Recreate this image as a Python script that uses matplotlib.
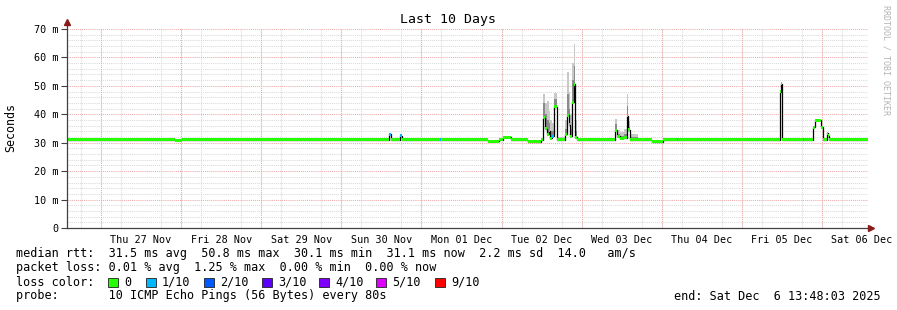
import numpy as np
import matplotlib
matplotlib.use('Agg')
import matplotlib.pyplot as plt
from matplotlib.patches import Rectangle

# DATOS (horas desde 2025-11-26 00:00)

t_start = 13.8
t_end = 253.8

hours = [13.8, 46.2, 48.3, 110.3, 110.9, 113.6, 114.2, 125.6, 125.9, 139.9,
         143.2, 144.4, 146.8, 151.9, 155.8, 156.4, 157.0, 157.6, 158.2, 158.5,
         159.1, 159.7, 160.6, 163.0, 163.6, 164.2, 164.5, 165.1, 165.7, 166.0,
         166.6, 178.0, 178.6, 179.5, 180.7, 181.6, 181.9, 182.5, 184.9, 189.1,
         192.4, 196.6, 196.9, 227.4, 227.7, 228.0, 234.3, 234.6, 237.3, 237.9,
         239.7, 240.3, 241.5, 241.8, 242.1]

# mediana rtt (ms)
median = [31.1, 30.8, 31.1, 32.9, 31.1, 32.5, 31.1, 31.1, 31.1, 30.5,
          31.1, 32.0, 31.1, 30.4, 31.1, 38.8, 35.0, 33.0, 34.2, 31.6,
          32.3, 42.7, 31.1, 32.9, 39.6, 36.4, 32.3, 44.3, 50.5, 32.0,
          31.1, 34.4, 32.3, 31.6, 31.8, 39.4, 34.6, 31.1, 31.1, 30.4,
          31.1, 31.1, 31.1, 48.0, 50.8, 31.1, 31.1, 31.1, 35.5, 37.9,
          35.5, 31.1, 33.4, 32.4, 31.1]

# humo: ping maximo
smoke_hi = [31.1, 30.8, 31.1, 33.3, 31.1, 32.8, 31.8, 31.1, 31.1, 30.5,
            31.1, 32.0, 31.1, 31.0, 31.1, 47.0, 44.0, 44.5, 41.0, 38.0,
            37.0, 47.4, 32.0, 38.0, 54.8, 48.0, 40.0, 58.0, 64.7, 38.0,
            31.8, 38.5, 34.5, 33.6, 35.0, 47.0, 37.5, 33.0, 31.1, 30.4,
            31.1, 31.1, 31.1, 48.5, 51.2, 31.1, 31.1, 31.1, 35.5, 37.9,
            35.5, 31.1, 33.4, 32.4, 31.1]

# humo oscuro (pings cerca de la mediana)
smoke_dark = [31.1, 30.8, 31.1, 33.0, 31.1, 32.6, 31.3, 31.1, 31.1, 30.5,
              31.1, 32.0, 31.1, 30.6, 31.1, 44.0, 40.0, 38.0, 37.0, 34.0,
              34.0, 45.5, 31.5, 35.0, 47.0, 42.0, 35.0, 52.0, 57.0, 34.0,
              31.1, 36.5, 33.0, 32.5, 33.0, 43.0, 35.5, 32.0, 31.1, 30.4,
              31.1, 31.1, 31.1, 48.0, 50.8, 31.1, 31.1, 31.1, 35.5, 37.9,
              35.5, 31.1, 33.4, 32.4, 31.1]

# perdida de paquetes (decimas)
loss = [0, 0, 0, 1, 0, 1, 0, 1, 0, 0,
        0, 0, 0, 0, 0, 0, 0, 0, 0, 0,
        1, 0, 0, 0, 0, 0, 0, 0, 0, 0,
        0, 0, 0, 0, 0, 0, 0, 0, 0, 0,
        0, 1, 0, 0, 0, 0, 1, 0, 0, 0,
        0, 0, 0, 0, 0]

loss_colors = {0: '#26ff00', 1: '#00b8ff', 2: '#0059ff', 3: '#5e00ff',
               4: '#7e00ff', 5: '#dd00ff', 9: '#ff0000'}
legend_names = ['0', '1/10', '2/10', '3/10', '4/10', '5/10', '9/10']
legend_keys = [0, 1, 2, 3, 4, 5, 9]

midnights = [24, 48, 72, 96, 120, 144, 168, 192, 216, 240]
day_labels = ['Thu 27 Nov', 'Fri 28 Nov', 'Sat 29 Nov', 'Sun 30 Nov', 'Mon 01 Dec',
              'Tue 02 Dec', 'Wed 03 Dec', 'Thu 04 Dec', 'Fri 05 Dec', 'Sat 06 Dec']
y_ticks = [0, 10, 20, 30, 40, 50, 60, 70]
y_labels = ['0', '10 m', '20 m', '30 m', '40 m', '50 m', '60 m', '70 m']

stats_rtt = 'median rtt:  31.5 ms avg  50.8 ms max  30.1 ms min  31.1 ms now  2.2 ms sd  14.0   am/s'
stats_loss = 'packet loss: 0.01 % avg  1.25 % max  0.00 % min  0.00 % now'
probe_text = 'probe:       10 ICMP Echo Pings (56 Bytes) every 80s'
end_text = 'end: Sat Dec  6 13:48:03 2025'

# GRAFICA

W, H = 897, 310
plt.rcParams['font.family'] = 'DejaVu Sans Mono'
fs_leg = 8.5

fig = plt.figure(figsize=(W / 100, H / 100), dpi=100, facecolor='white')


def px(x, y):
    return x / W, 1 - y / H


ax = fig.add_axes([67 / W, (H - 228) / H, 801 / W, 199 / H])
ax.set_xlim(t_start, t_end)
ax.set_ylim(0, 70)

t = np.array(hours + [t_end])
med = np.array(median + [median[-1]])
hi = np.array(smoke_hi + [smoke_hi[-1]])
dk = np.array(smoke_dark + [smoke_dark[-1]])

# humo
ax.fill_between(t, med, hi, step='post', color='#c8c8c8', lw=0, zorder=2)
ax.fill_between(t, med, dk, step='post', color='#8a8a8a', lw=0, zorder=3)

# linea de la mediana
ax.step(t, med, where='post', color='black', lw=0.9, zorder=4)

# banda de color de perdida
for i in range(len(hours)):
    ax.fill_between([t[i], t[i + 1]], med[i] - 0.53, med[i] + 0.53,
                    color=loss_colors[loss[i]], lw=0, zorder=5)

# rejilla
grid_grey = '#dadada'
grid_red = '#eeaaaa'
ax.set_xticks(np.arange(18, 253, 6), minor=True)
ax.set_yticks(np.arange(0, 71, 2), minor=True)
ax.grid(which='minor', color=grid_grey, ls=(0, (1, 1)), lw=0.75)
for m in midnights:
    ax.axvline(m, color=grid_red, ls=(0, (1, 1)), lw=0.75, zorder=1)
for v in y_ticks[1:]:
    ax.axhline(v, color=grid_red, ls=(0, (1, 1)), lw=0.75, zorder=1)
ax.set_axisbelow(True)

ax.set_xticks([m + 12 for m in midnights])
ax.set_xticklabels(day_labels, fontsize=7.3)
ax.set_yticks(y_ticks)
ax.set_yticklabels(y_labels, fontsize=7.3)
ax.tick_params(axis='x', which='both', length=0, pad=5)
ax.tick_params(axis='y', which='major', length=4, width=0.8, color='#404040', pad=2)
ax.tick_params(axis='y', which='minor', length=0)

for s in ax.spines.values():
    s.set_visible(False)

# ejes con flechas
ax.plot([0, 0], [0, 1.03], transform=ax.transAxes, color='#404040', lw=0.9, clip_on=False, zorder=6)
ax.plot([0, 1.003], [0, 0], transform=ax.transAxes, color='#404040', lw=0.9, clip_on=False, zorder=6)
ax.plot([0], [1.035], transform=ax.transAxes, marker='^', color='#8b1a1a', ms=4, clip_on=False, zorder=7)
ax.plot([1.004], [0], transform=ax.transAxes, marker='>', color='#8b1a1a', ms=4, clip_on=False, zorder=7)

fig.text(*px(448, 19), 'Last 10 Days', ha='center', va='center', fontsize=9.5)
fig.text(*px(11, 127), 'Seconds', ha='center', va='center', rotation=90, fontsize=8.4)
fig.text(*px(886, 60), 'RRDTOOL / TOBI OETIKER', ha='center', va='center',
         rotation=270, fontsize=6, color='#b4b4b4')

# leyenda
fig.text(*px(16, 254), stats_rtt, ha='left', va='center', fontsize=fs_leg)
fig.text(*px(16, 268), stats_loss, ha='left', va='center', fontsize=fs_leg)
fig.text(*px(16, 282), 'loss color:', ha='left', va='center', fontsize=fs_leg)
box_x = [108, 146, 204, 262, 319, 376, 435]
for bx, key, name in zip(box_x, legend_keys, legend_names):
    x0, y0 = px(bx, 287)
    fig.add_artist(Rectangle((x0, y0), 10 / W, 9 / H, transform=fig.transFigure,
                             facecolor=loss_colors[key], edgecolor='#202020', lw=0.6))
    fig.text(*px(bx + 16, 282), name, ha='left', va='center', fontsize=fs_leg)
fig.text(*px(16, 296), probe_text, ha='left', va='center', fontsize=fs_leg)
fig.text(*px(881, 296), end_text, ha='right', va='center', fontsize=fs_leg)

fig.savefig('out.png', dpi=100, facecolor='white')
